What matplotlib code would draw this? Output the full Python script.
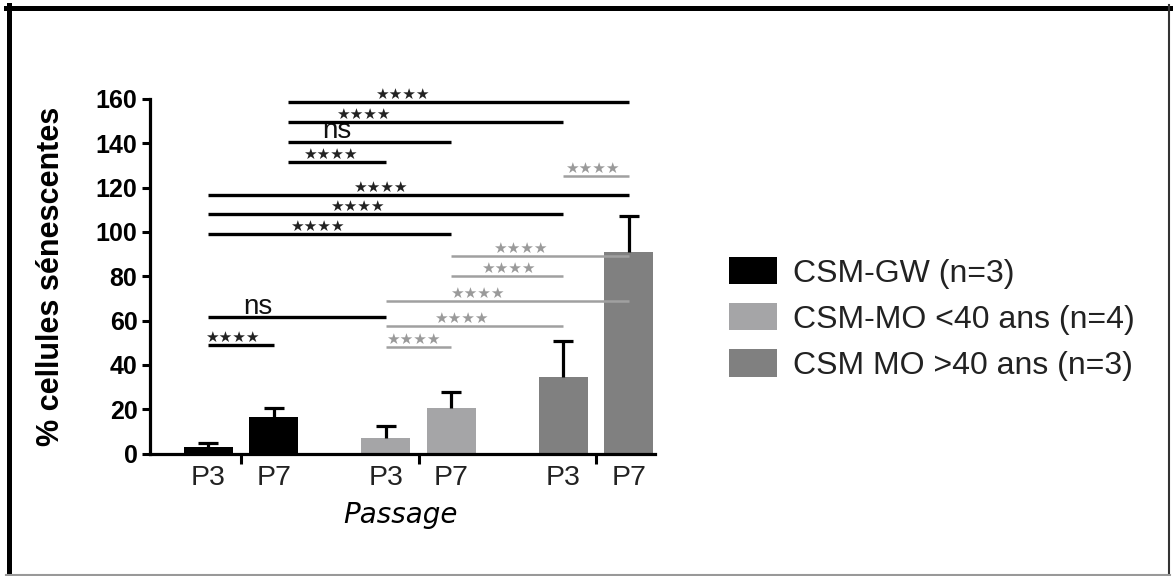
import numpy as np
import matplotlib
matplotlib.use("Agg")
import matplotlib.pyplot as plt
from matplotlib.lines import Line2D

plt.rcParams['font.family'] = ['Liberation Sans', 'DejaVu Sans']

# data
groups = ['CSM-GW (n=3)', 'CSM-MO <40 ans (n=4)', 'CSM MO >40 ans (n=3)']
passages = ['P3', 'P7']
means = [[2.9, 16.4], [7.1, 20.6], [34.5, 90.9]]
err_up = [[1.8, 4.1], [5.4, 7.2], [16.2, 16.5]]

# comparisons between bars (index 0..5 = group*2 + passage)
comp_pairs = [(1, 5), (1, 4), (1, 3), (1, 2), (0, 5), (0, 4), (0, 3),
              (0, 2), (0, 1),
              (4, 5), (3, 5), (3, 4), (2, 5), (2, 4), (2, 3)]
comp_y = [158.5, 149.5, 140.8, 131.4, 116.7, 107.9, 99.2,
          61.6, 48.9,
          125.4, 89.0, 80.1, 68.8, 57.6, 48.1]
comp_labels = ['****', '****', 'ns', '****', '****', '****', '****',
               'ns', '****',
               '****', '****', '****', '****', '****', '****']
comp_grey = [False] * 9 + [True] * 6

# layout of the annotation text (x in data units)
label_x = [0.907, 0.687, 0.541, 0.501, 0.783, 0.654, 0.428,
           0.096, -0.051,
           1.977, 1.572, 1.504, 1.330, 1.239, 0.969]

colors = ['#000000', '#a5a5a7', '#808080']
grey_sig = '#a0a0a0'
offset = 0.1845
width = 0.276

fig = plt.figure(figsize=(11.73, 5.76), dpi=100)
ax = fig.add_axes([150 / 1173, (576 - 453.5) / 576, 505 / 1173, 354.5 / 576])

bar_x = []
for g in range(3):
    xs = [g - offset, g + offset]
    bar_x += xs
    ax.bar(xs, means[g], width, color=colors[g], label=groups[g], zorder=2)
    eb = ax.errorbar(xs, means[g], yerr=[np.zeros(2), err_up[g]], fmt='none',
                     ecolor='black', elinewidth=2.3, capsize=7, capthick=2.3, zorder=3)
    eb[1][0].set_visible(False)  # no cap at the bar top

ax.set_xlim(-0.513, 2.332)
ax.set_ylim(0, 160)
ax.set_yticks(np.arange(0, 161, 20))
for lab in ax.get_yticklabels():
    lab.set_fontweight('bold')
ax.tick_params(axis='y', labelsize=18, length=6, width=2.2, pad=3)

ax.set_xticks([0, 1, 2])
ax.set_xticklabels([])
ax.tick_params(axis='x', which='major', length=7, width=2.2)
ax.set_xticks(bar_x, minor=True)
ax.set_xticklabels(passages * 3, minor=True)
ax.tick_params(axis='x', which='minor', length=0, labelsize=20.5, pad=8,
               labelcolor='#222222')

for s in ['top', 'right']:
    ax.spines[s].set_visible(False)
for s in ['left', 'bottom']:
    ax.spines[s].set_linewidth(2.3)

ax.set_ylabel('% cellules sénescentes', fontsize=22, fontweight='bold')
ax.yaxis.set_label_coords(-0.166, 0.5)
ax.set_xlabel('Passage', fontsize=20, style='italic', family='DejaVu Sans')
ax.xaxis.set_label_coords(0.497, -0.173)
ax.xaxis.label.set_va('center')

# significance bars
for k, (i, j) in enumerate(comp_pairs):
    c = grey_sig if comp_grey[k] else 'black'
    lw = 1.8 if comp_grey[k] else 2.4
    x0 = bar_x[i] + (0.08 if i == 1 else 0)
    ax.plot([x0, bar_x[j]], [comp_y[k], comp_y[k]], color=c, lw=lw,
            solid_capstyle='butt', clip_on=False, zorder=4)
    if comp_labels[k] == 'ns':
        ax.annotate('ns', (label_x[k], comp_y[k]), xytext=(0, 2.2),
                    textcoords='offset points', ha='center', va='baseline',
                    fontsize=20, color='#111111', annotation_clip=False)
    else:
        ax.annotate('★★★★', (label_x[k], comp_y[k]), xytext=(0, 2.2),
                    textcoords='offset points', ha='center', va='baseline',
                    fontsize=11, color=('#9a9a9a' if comp_grey[k] else '#222222'),
                    family='DejaVu Sans', annotation_clip=False)

fig.legend(loc='upper left', bbox_to_anchor=(716 / 1173, 1 - 244 / 576),
           frameon=False, fontsize=23, handlelength=1.5, handleheight=0.95,
           handletextpad=0.5, labelspacing=0.45, borderaxespad=0,
           labelcolor='#222222')

# frame around the picture
fig.add_artist(Line2D([6 / 1173, 1170 / 1173], [1 - 7.5 / 576] * 2, color='black', lw=3.6))
fig.add_artist(Line2D([8.5 / 1173] * 2, [1 - 5 / 576, 1 / 576], color='black', lw=3.6))
fig.add_artist(Line2D([1169 / 1173] * 2, [1 - 5 / 576, 1 / 576], color='#333333', lw=1.5))
fig.add_artist(Line2D([6 / 1173, 1170 / 1173], [1.2 / 576] * 2, color='#999999', lw=1.5))

fig.savefig('out.png', dpi=100)
